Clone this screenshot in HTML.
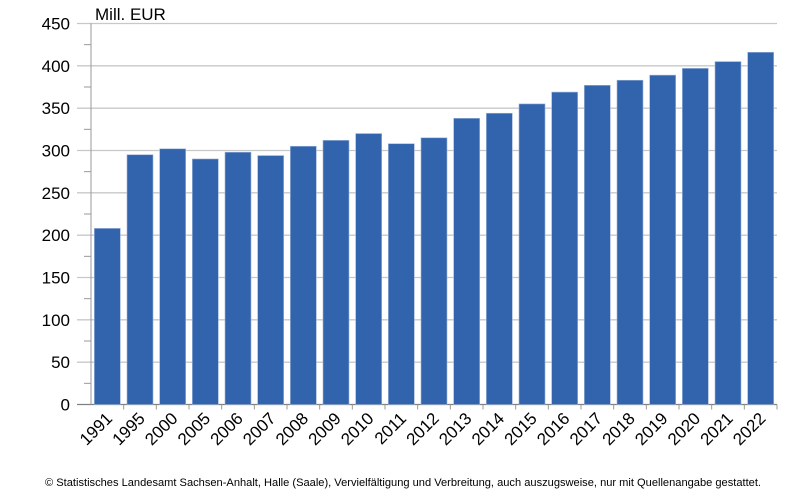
<!DOCTYPE html>
<html><head><meta charset="utf-8"><style>
html,body{margin:0;padding:0;background:#fff;}
svg{display:block;font-family:"Liberation Sans",Arial,sans-serif;}
</style></head><body>
<svg id="chart" width="800" height="500" viewBox="0 0 800 500">
<text x="95" y="20" font-size="17" fill="#000">Mill. EUR</text>
<g id="grid"></g><g id="bars"></g><g id="axes"></g>
<text x="403" y="486" font-size="11" fill="#000" text-anchor="middle" textLength="716" lengthAdjust="spacingAndGlyphs">© Statistisches Landesamt Sachsen-Anhalt, Halle (Saale), Vervielfältigung und Verbreitung, auch auszugsweise, nur mit Quellenangabe gestattet.</text>
</svg>
<script>
const categories = ["1991","1995","2000","2005","2006","2007","2008","2009","2010","2011","2012","2013","2014","2015","2016","2017","2018","2019","2020","2021","2022"];
const values = [208,295,302,290,298,294,305,312,320,308,315,338,344,355,369,377,383,389,397,405,416];
const yTicks = [0,50,100,150,200,250,300,350,400,450];
const yMax = 450;
const X0 = 91, X1 = 777, Y0 = 404.5, Y1 = 23.5;
const NS = "http://www.w3.org/2000/svg";
function y(v){ return Y0 - (v / yMax) * (Y0 - Y1); }
const step = (X1 - X0) / categories.length;
function x(i){ return X0 + i * step; }
function mk(tag, attrs, parent){
  const e = document.createElementNS(NS, tag);
  for (const k in attrs) e.setAttribute(k, attrs[k]);
  parent.appendChild(e); return e;
}
const grid = document.getElementById('grid'), bars = document.getElementById('bars'), axes = document.getElementById('axes');
yTicks.forEach(t => {
  const l = mk('line', {x1:77, x2:X1, y1:y(t), y2:y(t), stroke: t===0 ? '#808080' : '#c8c8c8', 'stroke-width':1.3}, grid);
  
  
  const tx = mk('text', {x:70, y:y(t)+6, 'font-size':17, 'text-anchor':'end', fill:'#000'}, axes);
  tx.textContent = t;
  
  
  if (t < yMax) {
    const m = mk('line', {x1:84, x2:X0, y1:y(t+25), y2:y(t+25), stroke:'#999', 'stroke-width':1}, axes);
    
    
  }
});
const ax = mk('line', {x1:X0, x2:X0, y1:Y1, y2:Y0, stroke:'#999', 'stroke-width':1}, axes);


categories.forEach((c, i) => {
  const bw = 26;
  const bx = x(i) + (step - bw) / 2;
  const r = mk('rect', {x:bx, y:y(values[i]), width:bw, height:Y0 - y(values[i]), fill:'#3264ae', stroke:'#9db4d8', 'stroke-width':0.6}, bars);
  
  
  const tk = mk('line', {x1:x(i+1), x2:x(i+1), y1:Y0, y2:Y0+5, stroke:'#999', 'stroke-width':1}, axes);
  
  
  const cx = x(i) + step/2 + 6, cy = Y0 + 15;
  const t = mk('text', {x:cx, y:cy, 'font-size':17, 'text-anchor':'end', fill:'#000', transform:'rotate(-45 ' + cx + ' ' + cy + ')'}, axes);
  t.textContent = c;
  
  
});
</script>
</body></html>
